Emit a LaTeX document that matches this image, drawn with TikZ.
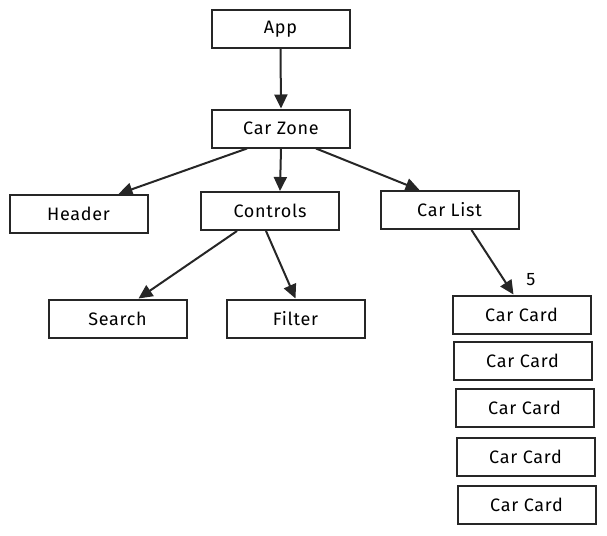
\documentclass[tikz,border=0pt]{standalone}
\usepackage{fontspec}
\setmainfont{Fira Sans}[LetterSpace=4]
\usetikzlibrary{arrows.meta}

\begin{document}
\begin{tikzpicture}[x=1pt,y=-1pt,
        box/.style={draw=black!85, line width=2pt, minimum width=138pt, minimum height=38pt, inner sep=0pt, font=\fontsize{18}{20}\selectfont},
        link/.style={draw=black!85, line width=2pt, -{Triangle[length=14pt,width=13pt]}}]
        \useasboundingbox (0,0) rectangle (607,535);
        \node [box] (app) at (280.5,29) {App};
        \node [box] (zone) at (281,128.5) {Car Zone};
        \node [box] (header) at (78.5,214) {Header};
        \node [box] (controls) at (270,211) {Controls};
        \node [box] (list) at (449.5,210) {Car List};
        \node [box] (search) at (117.5,318.5) {Search};
        \node [box] (filter) at (295.5,318.5) {Filter};
        \node [box] (cardA) at (521.5,314.5) {Car Card};
        \node [box] (cardB) at (522.5,360.5) {Car Card};
        \node [box] (cardC) at (524.5,408) {Car Card};
        \node [box] (cardD) at (525.5,456.5) {Car Card};
        \node [box] (cardE) at (526.5,505) {Car Card};
        \node [font=\fontsize{18}{20}\selectfont] (count) at (531,280) {5};
        \draw [link] (app.south) -- (zone.north);
        \draw [link] ([xshift=-34pt]zone.south) -- ([xshift=40pt]header.north);
        \draw [link] (zone.south) -- ([xshift=10pt]controls.north);
        \draw [link] ([xshift=35pt]zone.south) -- ([xshift=-30pt]list.north);
        \draw [link] ([xshift=-33pt]controls.south) -- ([xshift=21pt]search.north);
        \draw [link] ([xshift=-4pt]controls.south) -- (filter.north);
        \draw [link] ([xshift=22pt]list.south) -- ([xshift=-8pt]cardA.north);
\end{tikzpicture}
\end{document}
